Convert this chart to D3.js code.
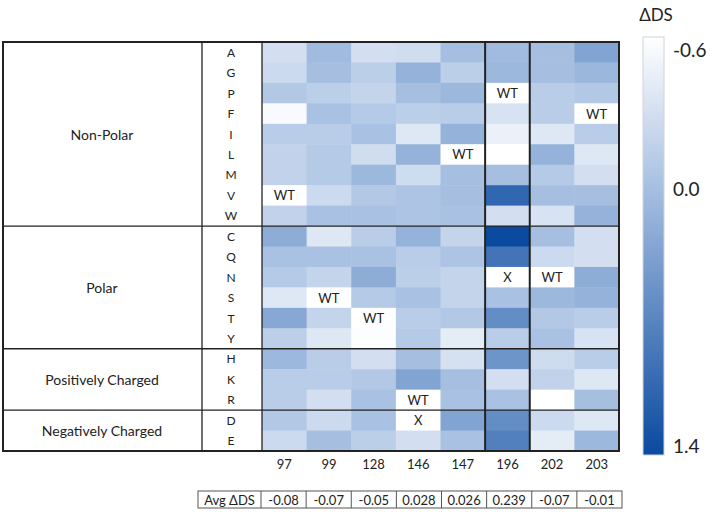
<!DOCTYPE html>
<html><head><meta charset="utf-8">
<script src="https://cdn.jsdelivr.net/npm/d3@7"></script>
<style>
body{margin:0;background:#fff}
text{font-family:Lato,"Open Sans",sans-serif;fill:#222}
</style>
</head><body>
<svg id="chart" width="712" height="514"></svg>
<script>
// ---------- data ----------
const residues = ["A","G","P","F","I","L","M","V","W","C","Q","N","S","T","Y","H","K","R","D","E"];
const positions = ["97","99","128","146","147","196","202","203"];
const groupNames = ["Non-Polar","Polar","Positively Charged","Negatively Charged"];
const groupFirst = ["A","C","H","D"];
const groupLast  = ["W","Y","R","E"];
// ΔDS per position, in residue order (null = annotated cell)
const v97  = [-0.30,-0.25,-0.08,-0.55,-0.13,-0.18,-0.18,null,-0.18, 0.22,-0.02,-0.10,-0.38,0.28,-0.15, 0.08,-0.13,-0.13,-0.08,-0.25];
const v99  = [0.05,0.00,-0.15,-0.02,-0.13,-0.10,-0.10,-0.25,-0.02, -0.38,-0.02,-0.20,null,-0.20,-0.38, -0.13,-0.13,-0.30,-0.25,0.00];
const v128 = [-0.30,-0.15,-0.20,-0.10,-0.02,-0.28,0.08,-0.08,-0.02, -0.13,-0.02,0.22,-0.10,null,-0.58, -0.30,-0.08,-0.02,-0.02,-0.15];
const v146 = [-0.28,0.15,0.00,-0.15,-0.38,0.15,-0.27,-0.05,-0.05, 0.15,-0.13,-0.15,-0.02,-0.13,-0.10, 0.00,0.32,null,null,-0.30];
const v147 = [0.00,-0.15,0.08,-0.13,0.15,null,0.00,0.00,-0.02, -0.20,-0.05,-0.20,-0.20,-0.08,-0.42, -0.32,0.00,-0.02,0.32,-0.02];
const v196 = [0.05,0.08,null,-0.33,-0.47,-0.60,0.00,1.05,-0.30, 1.40,0.90,null,-0.02,0.60,-0.13, 0.50,-0.30,-0.02,0.60,0.75];
const v202 = [0.00,0.00,-0.13,-0.13,-0.38,0.15,-0.10,0.00,-0.33, 0.00,-0.25,null,0.08,-0.08,-0.02, -0.27,-0.18,-0.60,-0.25,-0.42];
const v203 = [0.32,0.10,-0.08,null,-0.13,-0.38,-0.30,0.00,0.15, -0.30,-0.30,0.22,0.15,-0.13,-0.33, -0.13,-0.38,0.00,-0.38,0.08];
const seriesByPosition = [v97,v99,v128,v146,v147,v196,v202,v203];
// annotated cells: [residue, position, label]
const noteResidue  = ["V","S","T","L","R","D","P","N","N","F"];
const notePosition = ["97","99","128","147","146","146","196","196","202","203"];
const noteLabel    = ["WT","WT","WT","WT","WT","X","WT","X","WT","WT"];
const avgTitle = "Avg ΔDS";
const avgValues = ["-0.08","-0.07","-0.05","0.028","0.026","0.239","-0.07","-0.01"];
const legendTitle = "ΔDS";
const legendTicks = [-0.6, 0.0, 1.4];
const legendTickLabels = ["-0.6","0.0","1.4"];

// ---------- drawing ----------
const svg = d3.select("#chart");
const x = d3.scaleBand().domain(positions).range([262, 619]);
const y = d3.scaleBand().domain(residues).range([42, 451]);
const color = d3.scaleLinear().domain([-0.6, 0, 1.4]).range(["#ffffff", "#a6bfe1", "#0a4a9f"]).clamp(true);

const cells = [];
positions.forEach((p, j) => residues.forEach((r, i) => cells.push({p, r, v: seriesByPosition[j][i]})));
svg.append("g").selectAll("rect").data(cells).join("rect")
  .attr("x", d => x(d.p)).attr("y", d => y(d.r))
  .attr("width", x.bandwidth() + 0.5).attr("height", y.bandwidth() + 0.5)
  .attr("fill", d => d.v == null ? "#ffffff" : color(d.v));

svg.append("g").selectAll("text").data(noteLabel).join("text")
  .attr("x", (d, i) => x(notePosition[i]) + x.bandwidth() / 2)
  .attr("y", (d, i) => y(noteResidue[i]) + y.bandwidth() / 2)
  .attr("text-anchor", "middle").attr("dominant-baseline", "central")
  .attr("font-size", 13).text(d => d);

// row letters
svg.append("g").selectAll("text").data(residues).join("text")
  .attr("x", 231).attr("y", d => y(d) + y.bandwidth() / 2)
  .attr("text-anchor", "middle").attr("dominant-baseline", "central")
  .attr("font-size", 12).text(d => d);

// group labels
svg.append("g").selectAll("text").data(groupNames).join("text")
  .attr("x", 102)
  .attr("y", (d, i) => (y(groupFirst[i]) + y(groupLast[i]) + y.bandwidth()) / 2)
  .attr("text-anchor", "middle").attr("dominant-baseline", "central")
  .attr("font-size", 14).text(d => d);

// grid lines
const gTop = y.range()[0], gBot = y.range()[1], gLeft = 3, gRight = x.range()[1];
const lines = svg.append("g").attr("stroke", "#222");
groupLast.slice(0, -1).forEach(g => {
  const yy = y(g) + y.bandwidth();
  lines.append("line").attr("x1", gLeft).attr("x2", gRight).attr("y1", yy).attr("y2", yy).attr("stroke-width", 1.3);
});
[202, x.range()[0]].forEach(xx => lines.append("line").attr("x1", xx).attr("x2", xx).attr("y1", gTop).attr("y2", gBot).attr("stroke-width", 1.3));
[x("196"), x("196") + x.bandwidth()].forEach(xx => lines.append("line").attr("x1", xx).attr("x2", xx).attr("y1", gTop).attr("y2", gBot).attr("stroke-width", 2));
lines.append("rect").attr("x", gLeft).attr("y", gTop).attr("width", gRight - gLeft).attr("height", gBot - gTop)
  .attr("fill", "none").attr("stroke-width", 2);

// column labels
svg.append("g").selectAll("text").data(positions).join("text")
  .attr("x", d => x(d) + x.bandwidth() / 2).attr("y", 464)
  .attr("text-anchor", "middle").attr("dominant-baseline", "central")
  .attr("font-size", 13).text(d => d);

// average table
const tTop = 491, tH = 17, tLeft = 198, tRight = 622;
const tx = d3.scaleBand().domain(positions).range([x.range()[0] - 1, tRight]);
const tbl = svg.append("g");
tbl.append("rect").attr("x", tLeft).attr("y", tTop).attr("width", tRight - tLeft).attr("height", tH)
  .attr("fill", "none").attr("stroke", "#555").attr("stroke-width", 1);
tbl.selectAll("line").data(positions).join("line")
  .attr("x1", d => tx(d)).attr("x2", d => tx(d)).attr("y1", tTop).attr("y2", tTop + tH)
  .attr("stroke", "#555").attr("stroke-width", 1);
tbl.append("text").attr("x", (tLeft + tx.range()[0]) / 2).attr("y", tTop + tH / 2)
  .attr("text-anchor", "middle").attr("dominant-baseline", "central").attr("font-size", 13).text(avgTitle);
tbl.selectAll("text.v").data(avgValues).join("text").attr("class", "v")
  .attr("x", (d, i) => tx(positions[i]) + tx.bandwidth() / 2).attr("y", tTop + tH / 2)
  .attr("text-anchor", "middle").attr("dominant-baseline", "central").attr("font-size", 13).text(d => d);

// legend
const ly = d3.scaleLinear().domain([-0.6, 0, 1.4]).range([37, 188, 455]);
const defs = svg.append("defs");
const grad = defs.append("linearGradient").attr("id", "lg").attr("x1", 0).attr("x2", 0).attr("y1", 0).attr("y2", 1);
const span = ly.range()[2] - ly.range()[0];
d3.range(0, 21).map(k => -0.6 + k * 0.1).forEach(v => {
  grad.append("stop").attr("offset", (ly(v) - ly.range()[0]) / span).attr("stop-color", color(v));
});
svg.append("rect").attr("x", 643).attr("y", ly(-0.6)).attr("width", 21).attr("height", span)
  .attr("fill", "url(#lg)").attr("stroke", "#cfd4dc").attr("stroke-width", 1);
svg.append("g").selectAll("text").data(legendTicks).join("text")
  .attr("x", 673).attr("y", d => Math.max(49, Math.min(445, ly(d))))
  .attr("dominant-baseline", "central").attr("font-size", 19).text((d, i) => legendTickLabels[i]);
svg.append("text").attr("x", 656).attr("y", 14).attr("text-anchor", "middle")
  .attr("dominant-baseline", "central").attr("font-size", 17).text(legendTitle);
</script>
</body></html>
